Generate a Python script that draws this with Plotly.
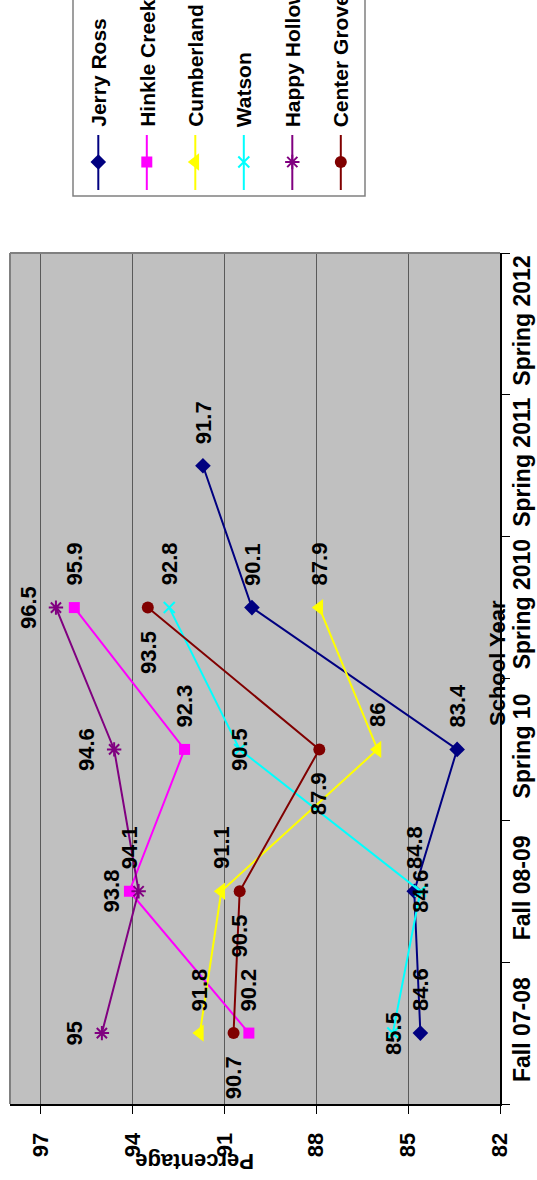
import plotly.graph_objects as go

# ---------------- data ----------------
categories = ["Fall 07-08", "Fall 08-09", "Spring 10", "Spring 2010", "Spring 2011", "Spring 2012"]
series_names = ["Jerry Ross", "Hinkle Creek", "Cumberland", "Watson", "Happy Hollow", "Center Grove"]
jerry_ross = [84.6, 84.8, 83.4, 90.1, 91.7, None]
hinkle_creek = [90.2, 94.1, 92.3, 95.9, None, None]
cumberland = [91.8, 91.1, 86, 87.9, None, None]
watson = [85.5, 84.6, 90.5, 92.8, None, None]
happy_hollow = [95, 93.8, 94.6, 96.5, None, None]
center_grove = [90.7, 90.5, 87.9, 93.5, None, None]
pct_ticks = [97, 94, 91, 88, 85, 82]
pct_ticktext = ["97", "94", "91", "88", "85", "82"]

# ---------------- styles ----------------
values = [jerry_ross, hinkle_creek, cumberland, watson, happy_hollow, center_grove]
colors = ["#000080", "#FF00FF", "#FFFF00", "#00FFFF", "#800080", "#800000"]
symbols = ["diamond", "square", "triangle-left", "x-thin-open", "asterisk-open", "circle"]
msizes = [12, 11, 15, 11, 12, 12]
label_pos = [
    ["above"] * 5,
    ["above"] * 4,
    ["above"] * 4,
    ["center", "center", "center", "above"],
    ["left"] * 4,
    ["below"] * 4,
]

FONT = "Liberation Sans, Arial, sans-serif"
W, H = 537, 1180
ML, MR, MT, MB = 10, 37, 0, 76
PW = W - ML - MR          # 490
PH = H - MT - MB          # 1104 (paper height)
plot_top_px = 253
main_dom_top = (PH - plot_top_px) / PH


def px_x(px):
    return (px - ML) / PW


def px_y(py):
    return (PH - py) / PH


fig = go.Figure()

for name, vals, col, sym, ms in zip(series_names, values, colors, symbols, msizes):
    open_sym = sym.endswith("open")
    fig.add_trace(go.Scatter(
        x=vals, y=categories, mode="lines+markers", name=name,
        line=dict(color=col, width=2),
        marker=dict(symbol=sym, size=ms, color=col,
                    line=dict(color=col, width=2 if open_sym else 0)),
        showlegend=False, xaxis="x", yaxis="y",
    ))

# data labels
annotations = []
for vals, positions in zip(values, label_pos):
    k = 0
    for cat, v in zip(categories, vals):
        if v is None:
            continue
        pos = positions[k]
        k += 1
        a = dict(x=v, y=cat, xref="x", yref="y", text=f"{v:g}", showarrow=False,
                 textangle=-90, font=dict(family=FONT, size=22, color="black", weight="bold"))
        if pos == "above":
            a.update(xanchor="center", yanchor="bottom", yshift=20)
        elif pos == "below":
            a.update(xanchor="center", yanchor="top", yshift=-21)
        elif pos == "left":
            a.update(xanchor="right", yanchor="middle", xshift=-13)
        else:
            a.update(xanchor="center", yanchor="middle")
        annotations.append(a)

# axis titles
annotations.append(dict(x=px_x(497), y=px_y(663), xref="paper", yref="paper", text="School Year",
                        showarrow=False, textangle=-90, xanchor="center", yanchor="middle",
                        font=dict(family=FONT, size=22, color="black", weight="bold")))
annotations.append(dict(x=px_x(195), y=px_y(1162), xref="paper", yref="paper", text="Percentage",
                        showarrow=False, textangle=180, xanchor="center", yanchor="middle",
                        font=dict(family=FONT, size=22, color="black", weight="bold")))

# legend (drawn rotated, in its own pixel-scaled subplot)
leg_x0, leg_x1, leg_y1 = 73, 365, 196
for i, (name, col, sym, ms) in enumerate(zip(series_names, colors, symbols, msizes)):
    lx = 98.3 + i * 48.5
    open_sym = sym.endswith("open")
    fig.add_trace(go.Scatter(x=[lx, lx], y=[135, 190], mode="lines", line=dict(color=col, width=2),
                             showlegend=False, xaxis="x2", yaxis="y2", hoverinfo="skip"))
    fig.add_trace(go.Scatter(x=[lx], y=[162], mode="markers",
                             marker=dict(symbol=sym, size=ms, color=col,
                                         line=dict(color=col, width=2 if open_sym else 0)),
                             showlegend=False, xaxis="x2", yaxis="y2", hoverinfo="skip"))
    annotations.append(dict(x=lx, y=129, xref="x2", yref="y2", text=name, showarrow=False,
                            textangle=-90, xanchor="center", yanchor="bottom",
                            font=dict(family=FONT, size=21, color="black", weight="bold")))

shapes = [
    # plot area background
    dict(type="rect", xref="paper", yref="paper", x0=0, x1=1, y0=0, y1=main_dom_top,
         fillcolor="#C0C0C0", line=dict(width=0), layer="below"),
    # left and top border of plot area
    dict(type="line", xref="paper", yref="paper", x0=0, x1=0, y0=0, y1=main_dom_top,
         line=dict(color="#808080", width=2)),
    dict(type="line", xref="paper", yref="paper", x0=0, x1=1, y0=main_dom_top, y1=main_dom_top,
         line=dict(color="#808080", width=2)),
    # legend box
    dict(type="rect", xref="paper", yref="paper", x0=px_x(leg_x0), x1=px_x(leg_x1),
         y0=px_y(leg_y1), y1=px_y(-10), fillcolor="white", line=dict(color="#808080", width=1.5),
         layer="below"),
]

tickfont = dict(family=FONT, size=22, color="black", weight="bold")
fig.update_layout(
    width=W, height=H,
    margin=dict(l=ML, r=MR, t=MT, b=MB),
    paper_bgcolor="white", plot_bgcolor="rgba(0,0,0,0)",
    font=dict(family=FONT, color="black"),
    showlegend=False,
    xaxis=dict(domain=[0, 1], anchor="y", range=[98, 82], tickmode="array",
               tickvals=pct_ticks, ticktext=pct_ticktext, tickangle=-90,
               ticks="outside", ticklen=8, tickwidth=1, tickcolor="black",
               showline=True, linecolor="black", linewidth=2,
               showgrid=True, gridcolor="#5a5a5a", gridwidth=1, zeroline=False,
               tickfont=tickfont, automargin=False, ticklabelstandoff=10),
    yaxis=dict(domain=[0, main_dom_top], anchor="x", type="category",
               categoryorder="array", categoryarray=categories, range=[-0.5, 5.5],
               side="right", tickangle=-90, ticks="outside", ticklen=8, tickwidth=1,
               tickcolor="black", tickson="boundaries", showline=True, linecolor="black",
               linewidth=2, showgrid=False, zeroline=False,
               tickfont=dict(family=FONT, size=23, color="black", weight="bold"),
               automargin=False),
    xaxis2=dict(domain=[px_x(leg_x0), px_x(leg_x1)], anchor="y2", range=[leg_x0, leg_x1],
                visible=False, fixedrange=True),
    yaxis2=dict(domain=[px_y(leg_y1), 1], anchor="x2", range=[leg_y1, 0],
                visible=False, fixedrange=True),
    annotations=annotations,
    shapes=shapes,
)

fig.write_html("out.html", config={"displayModeBar": False},
               post_script="document.body.style.margin='0';document.body.style.padding='0';"
                           "document.body.style.overflow='hidden';")
